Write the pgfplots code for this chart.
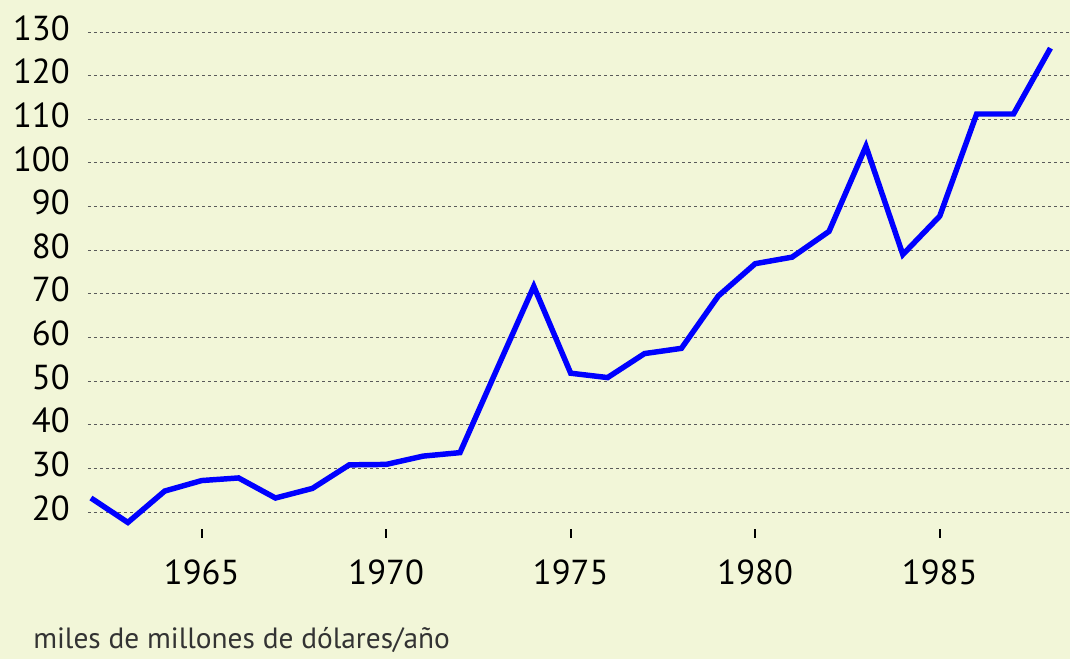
\documentclass[border=0pt]{standalone}
\usepackage{fontspec}
\setmainfont{PT Sans}
\usepackage{pgfplots}
\pgfplotsset{compat=1.18}
\definecolor{bg}{HTML}{F2F6D8}
\definecolor{grd}{HTML}{5A5A5A}
\definecolor{txt}{HTML}{333333}
\begin{document}
\begin{tikzpicture}
\fill[bg, use as bounding box] (-66pt,-97.5pt) rectangle (736.5pt,396.75pt);
\begin{axis}[
  at={(0,0)}, anchor=south west,
  scale only axis, width=736.5pt, height=374.4pt,
  xmin=1961.92, xmax=1988.53, ymin=16.1, ymax=130.5,
  axis line style={draw=none},
  xtick={1965,1970,1975,1980,1985},
  ytick={20,30,...,130},
  xticklabels={1965,1970,1975,1980,1985},
  xtick pos=left,
  tick align=outside,
  major tick length=6.75pt,
  xtick style={black, line width=1.3pt},
  ytick style={draw=none},
  ymajorgrids,
  major grid style={grd, line width=0.7pt, dash pattern=on 2.6pt off 1.9pt},
  /pgf/number format/assume math mode=true,
  /pgf/number format/1000 sep={},
  ticklabel style={font=\fontsize{26}{30}\selectfont, text=black},
  yticklabel style={anchor=east, inner sep=0pt, xshift=-6.75pt, yshift=3pt},
  xticklabel style={anchor=north, inner sep=0pt, yshift=-16.5pt},
  clip=false,
]
\addplot[color={rgb,255:red,0;green,0;blue,255}, line width=4.1pt, line join=miter, line cap=butt] coordinates {
(1962,23.2) (1963,17.6) (1964,24.8) (1965,27.2) (1966,27.8) (1967,23.2)
(1968,25.4) (1969,30.8) (1970,30.9) (1971,32.8) (1972,33.6) (1973,52.7)
(1974,71.7) (1975,51.8) (1976,50.8) (1977,56.3) (1978,57.5) (1979,69.5)
(1980,76.9) (1981,78.4) (1982,84.3) (1983,103.8) (1984,79.0) (1985,87.8)
(1986,111.2) (1987,111.2) (1988,126.3)
};
\end{axis}
\node[anchor=base west, inner sep=0pt, text=txt, font=\fontsize{22}{26}\selectfont] at (-41.25pt,-89.5pt) {miles de millones de dólares/año};
\end{tikzpicture}
\end{document}
